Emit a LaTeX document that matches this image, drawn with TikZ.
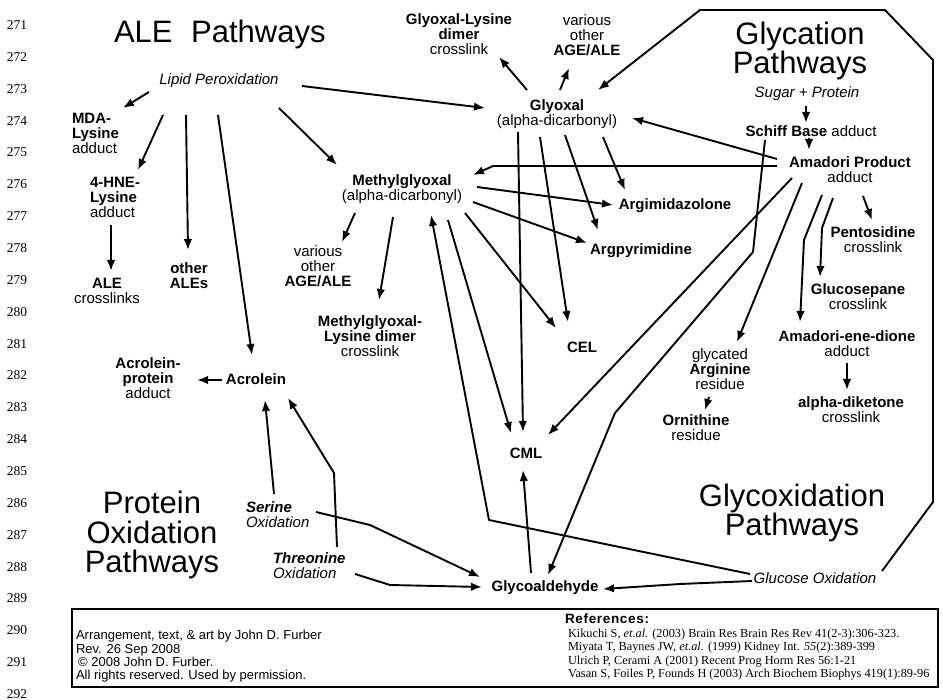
\documentclass[tikz,border=0pt]{standalone}
\usepackage{fontspec}
\setmainfont{Liberation Sans}
\newfontfamily\numfont{Liberation Serif}
\usetikzlibrary{arrows.meta}
\newcommand\nodefont{\fontsize{15pt}{15pt}\selectfont}
\newcommand\titlefont{\fontsize{31pt}{29.5pt}\selectfont}
\newcommand\footfont{\fontsize{13pt}{13.3pt}\selectfont}
\newcommand\reffont{\numfont\fontsize{12.3pt}{13.5pt}\selectfont}
\begin{document}
\begin{tikzpicture}[x=1pt,y=-1pt,
  every node/.style={inner sep=0pt,outer sep=0pt},
  lbl/.style={align=center,font=\nodefont},
  lbll/.style={align=left,font=\nodefont,anchor=north west},
  ttl/.style={align=center,font=\titlefont},
  arr/.style={line width=1.9pt,-{Latex[length=11pt,width=8.5pt]},line join=round},
  lnum/.style={font=\numfont\fontsize{13.5pt}{14pt}\selectfont}]
\fill[white] (0,0) rectangle (943,700);
\useasboundingbox (0,0) rectangle (943,700);

% line numbers
\foreach \n [count=\i from 0] in {271,...,292}
  \node[lnum] (ln\n) at (17,25+31.86*\i) {\n};

% titles
\node[ttl,anchor=base west] (aleT) at (114,43) {ALE\hspace{0.6em}Pathways};
\node[ttl] (glycT) at (800,51) {Glycation\\Pathways};
\node[ttl] (protT) at (152,535) {Protein\\Oxidation\\Pathways};
\node[ttl] (glyoxT) at (792,513) {Glycoxidation\\Pathways};

% nodes
\node[lbl] (lipid) at (219,81) {\textit{Lipid Peroxidation}};
\node[lbll] (mda) at (72,113) {\textbf{MDA-}\\\textbf{Lysine}\\adduct};
\node[lbll] (hne) at (90,177) {\textbf{4-HNE-}\\\textbf{Lysine}\\adduct};
\node[lbl] (alecross) at (107,291) {\textbf{ALE}\\crosslinks};
\node[lbl] (otherales) at (189,276) {\textbf{other}\\\textbf{ALEs}};
\node[lbl] (acrprot) at (148,378) {\textbf{Acrolein-}\\\textbf{protein}\\adduct};
\node[lbl] (acrolein) at (256,379) {\textbf{Acrolein}};
\node[lbl] (methyl) at (402,189) {\textbf{Methylglyoxal}\\(alpha-dicarbonyl)};
\node[lbl] (glyoxal) at (557,114) {\textbf{Glyoxal}\\(alpha-dicarbonyl)};
\node[lbl] (gldimer) at (459,34) {\textbf{Glyoxal-Lysine}\\\textbf{dimer}\\crosslink};
\node[lbl] (ageT) at (587,35) {various\\other\\\textbf{AGE/ALE}};
\node[lbl] (sugar) at (807,94) {\textit{Sugar + Protein}};
\node[lbl] (schiff) at (811,131) {\textbf{Schiff Base} adduct};
\node[lbl] (amadori) at (850,170) {\textbf{Amadori Product}\\adduct};
\node[lbl] (argim) at (675,206) {\textbf{Argimidazolone}};
\node[lbl] (argpy) at (641,251) {\textbf{Argpyrimidine}};
\node[lbl] (cel) at (582,347) {\textbf{CEL}};
\node[lbl] (cml) at (526,453) {\textbf{CML}};
\node[lbl] (mgdimer) at (370,336) {\textbf{Methylglyoxal-}\\\textbf{Lysine dimer}\\crosslink};
\node[lbl] (ageM) at (318,266) {various\\other\\\textbf{AGE/ALE}};
\node[lbl] (pento) at (873,240) {\textbf{Pentosidine}\\crosslink};
\node[lbl] (gluco) at (858,297) {\textbf{Glucosepane}\\crosslink};
\node[lbl] (ened) at (847,344) {\textbf{Amadori-ene-dione}\\adduct};
\node[lbl] (diket) at (851,410) {\textbf{alpha-diketone}\\crosslink};
\node[lbl] (garg) at (720,369) {glycated\\\textbf{Arginine}\\residue};
\node[lbl] (orn) at (696,428) {\textbf{Ornithine}\\residue};
\node[lbll] (serine) at (246,502) {\textit{\textbf{Serine}}\\\textit{Oxidation}};
\node[lbll] (threo) at (273,553) {\textit{\textbf{Threonine}}\\\textit{Oxidation}};
\node[lbl] (glyco) at (545,588) {\textbf{Glycoaldehyde}};
\node[lbl] (glucox) at (815,578) {\textit{Glucose Oxidation}};

% lipid peroxidation arrows
\draw[arr] ([shift={(-70,11)}]lipid.center) -- ([shift={(51,-5)}]mda.north west);
\draw[arr] ([shift={(-56,34)}]lipid.center) -- ([shift={(48,-7)}]hne.north west);
\draw[arr] ([shift={(-33,34)}]lipid.center) -- ([shift={(-1,-26)}]otherales.center);
\draw[arr] ([shift={(-1,34)}]lipid.center) -- ([shift={(-4,-24)}]acrolein.center);
\draw[arr] ([shift={(60,27)}]lipid.center) -- ([shift={(-65,-24)}]methyl.center);
\draw[arr] ([shift={(83,5)}]lipid.center) -- ([shift={(-72,-6)}]glyoxal.center);
\draw[arr] ([shift={(21,48)}]hne.north west) -- ([shift={(4,-20)}]alecross.center);
\draw[arr] ([shift={(-34,1)}]acrolein.center) -- ([shift={(49,2)}]acrprot.center);

% protein oxidation
\draw[arr] ([shift={(28,-8)}]serine.north west) -- ([shift={(9,21)}]acrolein.center);
\draw[arr] ([shift={(64,-6)}]threo.north west) -- ([shift={(61,-80)}]threo.north west) -- ([shift={(32,19)}]acrolein.center);
\draw[arr] ([shift={(70,10)}]serine.north west) -- ([shift={(124,23)}]serine.north west) -- ([shift={(-65,-11)}]glyco.center);
\draw[arr] ([shift={(82,21)}]threo.north west) -- ([shift={(117,32)}]threo.north west) -- ([shift={(-63,-1)}]glyco.center);
\draw[arr] ([shift={(-14,-15)}]glyco.center) -- ([shift={(-3,17)}]cml.center);

% glyoxal arrows
\draw[arr] ([shift={(-30,-24)}]glyoxal.center) -- ([shift={(40,23)}]gldimer.center);
\draw[arr] ([shift={(3,-24)}]glyoxal.center) -- ([shift={(-18,33)}]ageT.center);
\draw[arr] ([shift={(-39,18)}]glyoxal.center) -- ([shift={(-3,-21)}]cml.center);
\draw[arr] ([shift={(-17,23)}]glyoxal.center) -- ([shift={(-14,-25)}]cel.center);
\draw[arr] ([shift={(8,21)}]glyoxal.center) -- ([shift={(-43,-21)}]argpy.center);
\draw[arr] ([shift={(46,23)}]glyoxal.center) -- ([shift={(-50,-16)}]argim.center);

% methylglyoxal arrows
\draw[arr] ([shift={(75,-2)}]methyl.center) -- ([shift={(-62,-1)}]argim.center);
\draw[arr] ([shift={(71,13)}]methyl.center) -- ([shift={(-54,-8)}]argpy.center);
\draw[arr] ([shift={(63,24)}]methyl.center) -- ([shift={(-26,-19)}]cel.center);
\draw[arr] ([shift={(46,31)}]methyl.center) -- ([shift={(-15,-20)}]cml.center);
\draw[arr] ([shift={(-9,28)}]methyl.center) -- ([shift={(9,-36)}]mgdimer.center);
\draw[arr] ([shift={(-47,24)}]methyl.center) -- ([shift={(24,-24)}]ageM.center);

% glycation arrows
\draw[arr] ([shift={(-1,12)}]sugar.center) -- ([shift={(-5,-8)}]schiff.center);
\draw[arr] ([shift={(-2,7)}]schiff.center) -- ([shift={(-41,-20)}]amadori.center);
\draw[arr] ([shift={(-73,-11)}]amadori.center) -- ([shift={(75,4)}]glyoxal.center);
\draw[arr] ([shift={(-73,-4)}]amadori.center) -- ([shift={(-357,-4)}]amadori.center) -- ([shift={(71,-14)}]methyl.center);
\draw[arr] ([shift={(-58,8)}]amadori.center) -- ([shift={(22,-18)}]cml.center);
\draw[arr] ([shift={(-48,13)}]amadori.center) -- ([shift={(17,-27)}]garg.center);
\draw[arr] ([shift={(-28,25)}]amadori.center) -- ([shift={(-46,70)}]amadori.center) -- ([shift={(-47,-22)}]ened.center);
\draw[arr] ([shift={(-17,28)}]amadori.center) -- ([shift={(-28,58)}]amadori.center) -- ([shift={(-38,-20)}]gluco.center);
\draw[arr] ([shift={(13,26)}]amadori.center) -- ([shift={(-1,-20)}]pento.center);
\draw[arr] ([shift={(0,19)}]ened.center) -- ([shift={(-4,-20)}]diket.center);
\draw[arr] ([shift={(-11,28)}]garg.center) -- ([shift={(9,-18)}]orn.center);
\draw[arr] ([shift={(-46,9)}]schiff.center) -- ([shift={(-58,121)}]schiff.center) -- ([shift={(-196,282)}]schiff.center) -- ([shift={(3,-13)}]glyco.center);

% glucose oxidation arrows
\draw[arr] ([shift={(-65,-4)}]glucox.center) -- ([shift={(-326,-58)}]glucox.center) -- ([shift={(29,26)}]methyl.center);
\draw[arr] ([shift={(-63,3)}]glucox.center) -- ([shift={(-135,6)}]glucox.center) -- ([shift={(58,1)}]glyco.center);
\draw[arr] ([shift={(67,-7)}]glucox.center) -- ([shift={(118,-76)}]glucox.center) -- ([shift={(118,-518)}]glucox.center) -- ([shift={(70,-568)}]glucox.center) -- ([shift={(-115,-568)}]glucox.center) -- ([shift={(41,-24)}]glyoxal.center);

% footer
\node[draw,line width=2.2pt,minimum width=866pt,minimum height=78pt] (footer) at (505,648) {};
\node[anchor=north west,align=left,font=\footfont] (credit) at (76,630.5)
  {Arrangement, text, \& art by John D. Furber\\Rev. 26 Sep 2008\\\,©\ 2008 John D. Furber.\\All rights reserved. Used by permission.};
\node[anchor=base west,font=\bfseries\fontsize{13.5pt}{14pt}\selectfont\addfontfeatures{LetterSpace=5}] (refhead) at (565,623) {References:};
\node[anchor=north west,align=left,font=\reffont] (refs) at (568,628.5)
  {Kikuchi S, \textit{et.al.} (2003) Brain Res Brain Res Rev 41(2-3):306-323.\\
   Miyata T, Baynes JW, \textit{et.al.} (1999) Kidney Int. \textit{55}(2):389-399\\
   Ulrich P, Cerami A (2001) Recent Prog Horm Res 56:1-21\\
   Vasan S, Foiles P, Founds H (2003) Arch Biochem Biophys 419(1):89-96};
\end{tikzpicture}
\end{document}
